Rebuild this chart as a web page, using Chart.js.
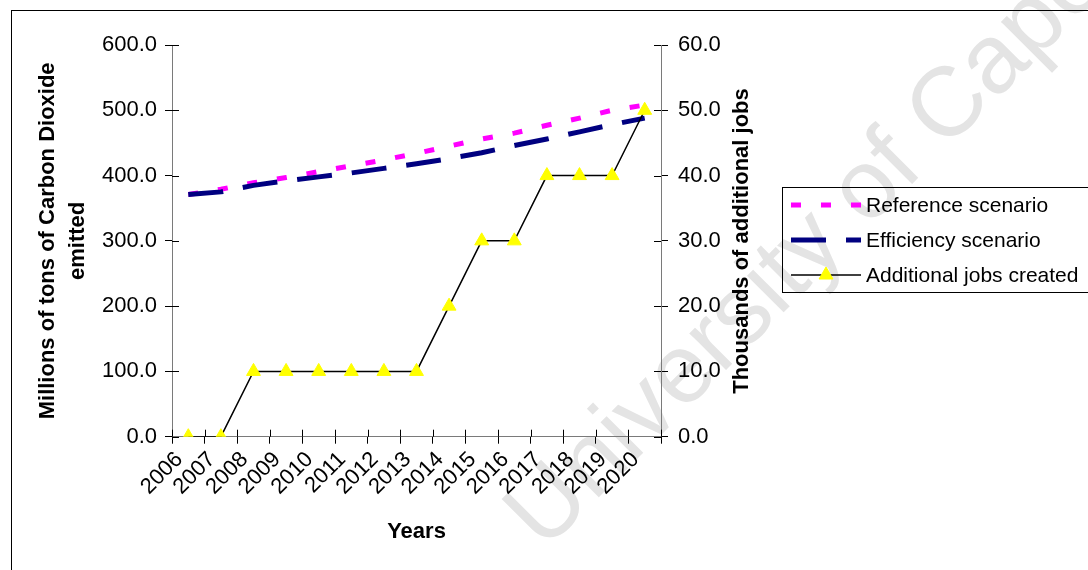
<!DOCTYPE html>
<html>
<head>
<meta charset="utf-8">
<script src="https://cdn.jsdelivr.net/npm/chart.js@4/dist/chart.umd.min.js"></script>
<style>
  html, body { margin: 0; padding: 0; background: #fff; }
  #wrap { width: 1088px; height: 570px; }
</style>
</head>
<body>
<div id="wrap"><canvas id="c" width="1088" height="570"></canvas></div>
<script>
// Years on the category axis
const years = ['2006', '2007', '2008', '2009', '2010', '2011', '2012', '2013',
               '2014', '2015', '2016', '2017', '2018', '2019', '2020'];

// CO2 emitted, millions of tons (left axis)
const referenceScenario  = [371, 379, 389, 397, 406, 415, 424, 434, 445, 456, 465, 477, 488, 500, 508];
const efficiencyScenario = [371, 375, 385, 392, 398, 404, 411, 418, 426, 435, 446, 456, 467, 478, 488];

// Additional jobs created, thousands (right axis)
const additionalJobs = [0, 0, 10, 10, 10, 10, 10, 10, 20, 30, 30, 40, 40, 40, 50];

// Axis ranges and tick steps
const co2Axis  = { min: 0, max: 600, step: 100 };
const jobsAxis = { min: 0, max: 60, step: 10 };

const seriesNames = ['Reference scenario', 'Efficiency scenario', 'Additional jobs created'];
const axisTitles = {
  co2: ['Millions of tons of Carbon Dioxide', 'emitted'],
  jobs: 'Thousands of additional jobs',
  years: 'Years'
};
const watermarkText = 'University of Cape Town';

const FONT = "'Liberation Sans', Arial, Helvetica, sans-serif";
const AXIS_GREY = '#7a7a7a';

// Decorations: background, watermark, outer frame, crossing tick marks,
// the right-hand title (reads bottom-to-top) and the boxed legend.
const decor = {
  id: 'decor',
  beforeDraw(chart) {
    const ctx = chart.ctx;
    ctx.save();
    ctx.fillStyle = '#ffffff';
    ctx.fillRect(0, 0, chart.width, chart.height);

    // watermark
    ctx.translate(544, 552);
    ctx.rotate(-Math.PI / 4);
    ctx.font = '98px ' + FONT;
    ctx.fillStyle = '#e4e4e4';
    ctx.textAlign = 'left';
    ctx.textBaseline = 'alphabetic';
    ctx.fillText(watermarkText, 0, 0);
    ctx.restore();

    // outer frame
    ctx.save();
    ctx.strokeStyle = '#000';
    ctx.lineWidth = 1;
    ctx.strokeRect(11.5, 10.5, chart.width + 20, chart.height + 20);
    ctx.restore();
  },
  afterDraw(chart) {
    const ctx = chart.ctx;
    const area = chart.chartArea;
    const sx = chart.scales.x, sy = chart.scales.y, sy2 = chart.scales.y2;
    ctx.save();
    ctx.strokeStyle = '#000';
    ctx.lineWidth = 1;
    ctx.beginPath();
    // inner half of the y tick marks
    sy.ticks.forEach((t, i) => {
      const y = Math.round(sy.getPixelForTick(i)) + 0.5;
      ctx.moveTo(area.left, y); ctx.lineTo(area.left + 7, y);
    });
    sy2.ticks.forEach((t, i) => {
      const y = Math.round(sy2.getPixelForTick(i)) + 0.5;
      ctx.moveTo(area.right, y); ctx.lineTo(area.right - 7, y);
    });
    // inner half of the category boundary ticks
    const n = sx.ticks.length;
    const half = (sx.getPixelForTick(1) - sx.getPixelForTick(0)) / 2;
    for (let i = 0; i <= n; i++) {
      const x = Math.round(sx.getPixelForTick(0) - half + i * 2 * half) + 0.5;
      ctx.moveTo(x, area.bottom); ctx.lineTo(x, area.bottom - 7);
    }
    ctx.stroke();
    ctx.restore();

    // right axis title
    ctx.save();
    ctx.translate(742, 241);
    ctx.rotate(-Math.PI / 2);
    ctx.font = 'bold 22px ' + FONT;
    ctx.fillStyle = '#000';
    ctx.textAlign = 'center';
    ctx.textBaseline = 'middle';
    ctx.fillText(axisTitles.jobs, 0, 0);
    ctx.restore();

    // legend
    ctx.save();
    ctx.strokeStyle = '#000';
    ctx.lineWidth = 1;
    ctx.strokeRect(782.5, 187.5, 400, 105);
    const rows = [205, 240, 275];
    chart.data.datasets.forEach((ds, i) => {
      const y = rows[i];
      ctx.save();
      ctx.strokeStyle = ds.borderColor;
      ctx.lineWidth = ds.borderWidth;
      ctx.lineCap = 'butt';
      ctx.setLineDash(ds.borderDash || []);
      ctx.beginPath();
      ctx.moveTo(791, y); ctx.lineTo(861, y);
      ctx.stroke();
      ctx.restore();
      if (ds.pointRadius > 0) {
        ctx.save();
        ctx.fillStyle = ds.pointBackgroundColor;
        ctx.strokeStyle = ds.pointBorderColor;
        ctx.lineWidth = ds.pointBorderWidth;
        Chart.helpers.drawPoint(ctx, {
          pointStyle: ds.pointStyle, radius: ds.pointRadius, borderWidth: ds.pointBorderWidth
        }, 826, y);
        ctx.restore();
      }
      ctx.font = '21px ' + FONT;
      ctx.fillStyle = '#000';
      ctx.textAlign = 'left';
      ctx.textBaseline = 'middle';
      ctx.fillText(ds.label, 866, y + 1);
    });
    ctx.restore();
  }
};

const tickFont = { family: FONT, size: 22 };
const titleFont = { family: FONT, size: 22, weight: 'bold' };

new Chart(document.getElementById('c'), {
  type: 'line',
  data: {
    labels: years,
    datasets: [
      {
        label: seriesNames[0],
        data: referenceScenario,
        yAxisID: 'y',
        borderColor: '#ff00ff',
        borderWidth: 5,
        borderDash: [10, 20],
        pointRadius: 0,
        tension: 0,
        order: 3
      },
      {
        label: seriesNames[1],
        data: efficiencyScenario,
        yAxisID: 'y',
        borderColor: '#000080',
        borderWidth: 5,
        borderDash: [35, 20],
        pointRadius: 0,
        tension: 0,
        order: 2
      },
      {
        label: seriesNames[2],
        data: additionalJobs,
        yAxisID: 'y2',
        borderColor: '#000000',
        borderWidth: 1.5,
        pointStyle: 'triangle',
        pointRadius: 8,
        pointBackgroundColor: '#ffff00',
        pointBorderColor: '#ffff00',
        pointBorderWidth: 1,
        tension: 0,
        order: 1
      }
    ]
  },
  options: {
    responsive: false,
    animation: false,
    devicePixelRatio: 1,
    layout: { padding: { top: 45, left: 0, right: 0, bottom: 0 } },
    plugins: { legend: { display: false }, tooltip: { enabled: false } },
    scales: {
      x: {
        type: 'category',
        offset: true,
        grid: { offset: true, drawOnChartArea: false, drawTicks: true, tickLength: 7, color: '#000' },
        border: { display: true, color: AXIS_GREY, width: 1 },
        ticks: {
          autoSkip: false, minRotation: 45, maxRotation: 45,
          font: tickFont, color: '#000', padding: 3, labelOffset: -9
        },
        title: {
          display: true, text: axisTitles.years, color: '#000',
          font: titleFont, padding: { top: 0, bottom: 25 }
        },
        afterFit(s) { s.height = 133.3; }
      },
      y: {
        position: 'left',
        min: co2Axis.min, max: co2Axis.max,
        grid: { drawOnChartArea: false, drawTicks: true, tickLength: 7, color: '#000' },
        border: { display: true, color: AXIS_GREY, width: 1 },
        ticks: {
          stepSize: co2Axis.step, font: tickFont, color: '#000', padding: 8,
          callback: v => Number(v).toFixed(1)
        },
        title: {
          display: true, text: axisTitles.co2, color: '#000',
          font: Object.assign({ lineHeight: 1.35 }, titleFont),
          padding: { top: 33, bottom: 0 }
        },
        afterFit(s) { s.width = 172; }
      },
      y2: {
        position: 'right',
        min: jobsAxis.min, max: jobsAxis.max,
        grid: { drawOnChartArea: false, drawTicks: true, tickLength: 7, color: '#000' },
        border: { display: true, color: AXIS_GREY, width: 1 },
        ticks: {
          stepSize: jobsAxis.step, font: tickFont, color: '#000', padding: 10,
          callback: v => Number(v).toFixed(1)
        },
        afterFit(s) { s.width = 427; }
      }
    }
  },
  plugins: [decor]
});
</script>
</body>
</html>
